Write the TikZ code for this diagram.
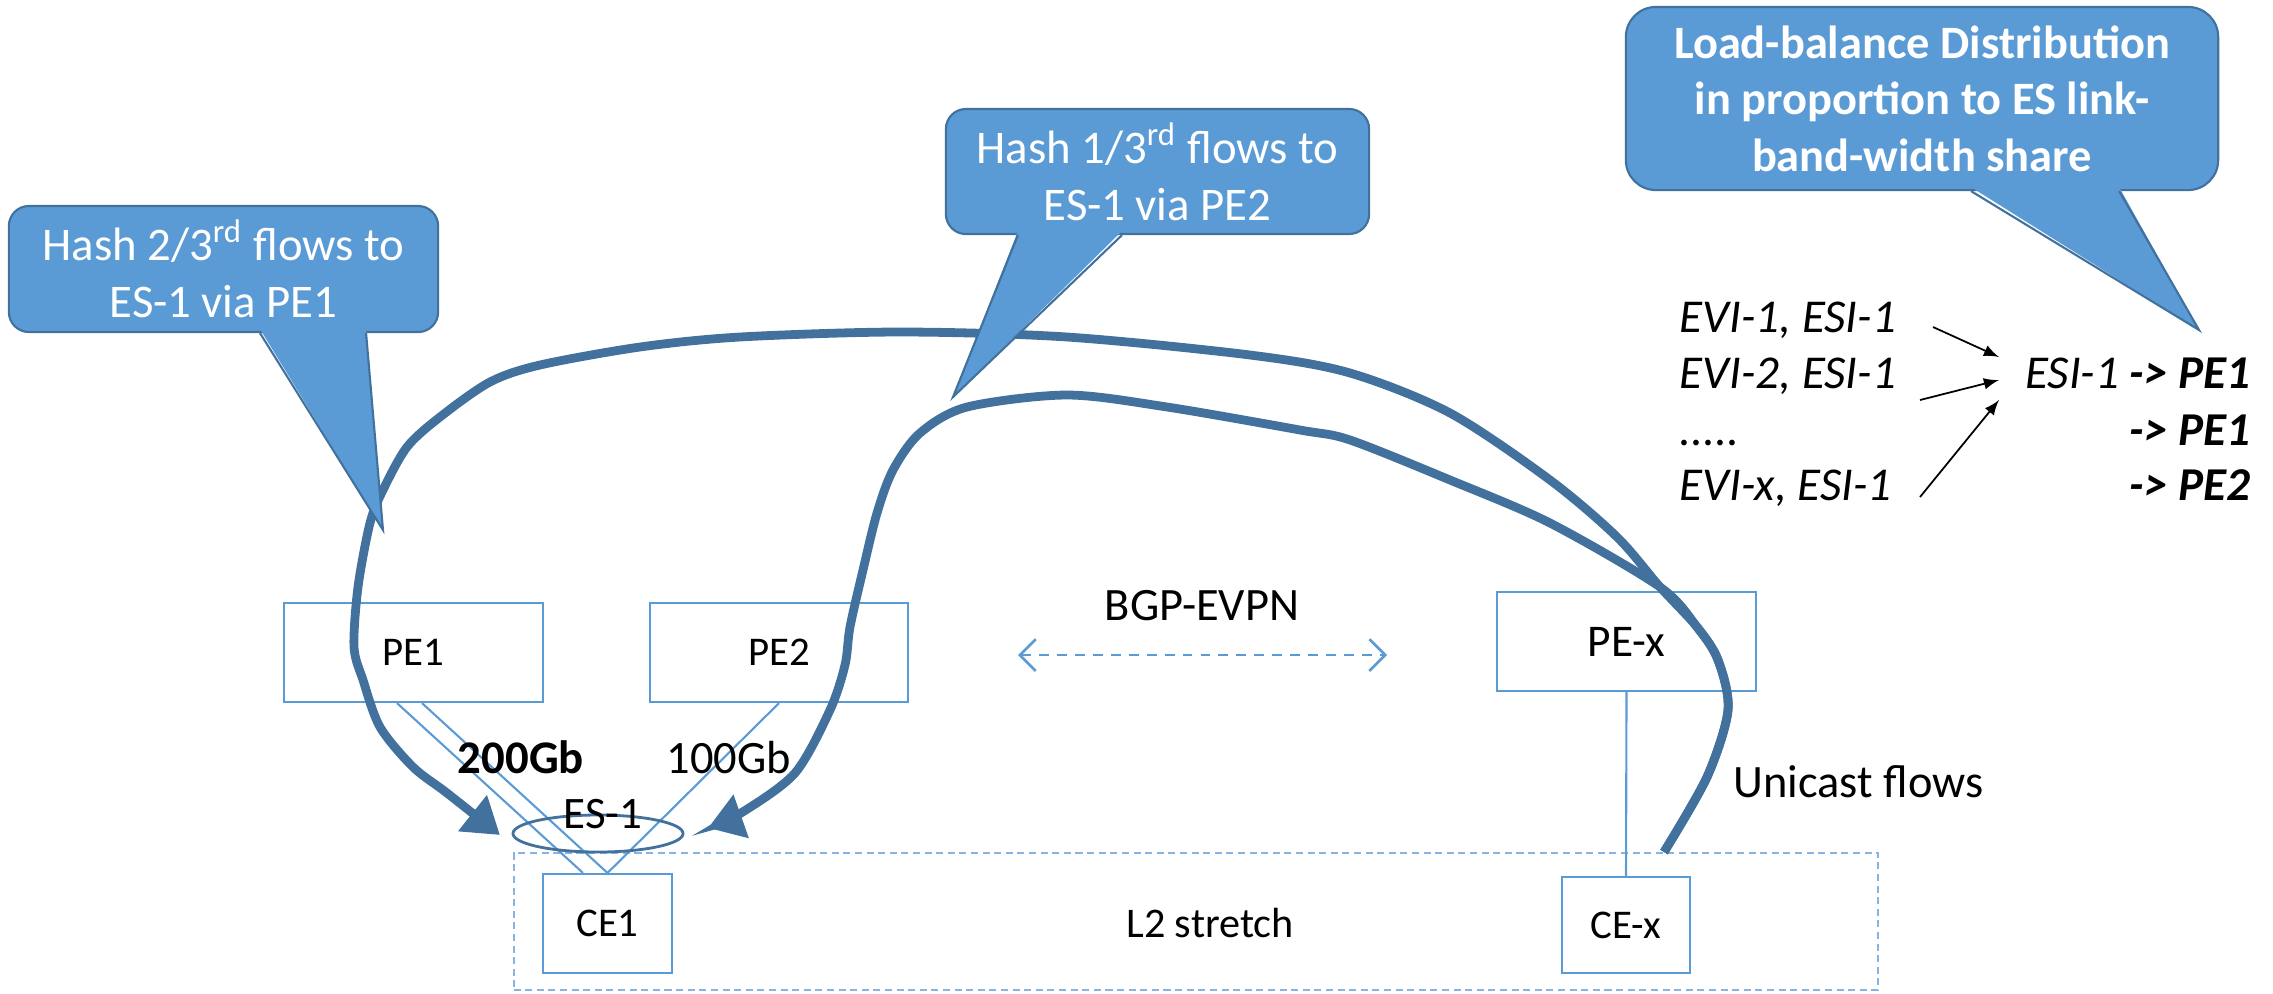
\documentclass[tikz,border=0pt]{standalone}
\usepackage{fontspec}
\setmainfont{Carlito}
\usepackage{tikz}
\usetikzlibrary{shapes.geometric,arrows.meta}
\definecolor{boxblue}{HTML}{5B9BD5}
\definecolor{flowblue}{HTML}{41719C}
\definecolor{lightdash}{HTML}{8AB4E0}

\begin{document}
\begin{tikzpicture}[x=0.01cm,y=-0.01cm,
  box/.style={draw=boxblue,line width=0.6pt,inner sep=0pt,font=\fontsize{11.6}{14}\selectfont},
  link/.style={draw=boxblue,line width=0.6pt},
  flow/.style={draw=flowblue,line width=2.5pt,-{Triangle[length=10pt,width=12.5pt]}},
  callout/.style={fill=boxblue,draw=flowblue,line width=0.6pt,rounded corners=0.2cm,text=white,align=center,inner sep=0pt,font=\fontsize{13.3}{16.2}\selectfont},
  pointerfill/.style={fill=boxblue},
  pointerline/.style={draw=flowblue,line width=0.6pt,line join=miter},
  txt/.style={inner sep=0pt,font=\fontsize{13.2}{16}\selectfont},
  maptxt/.style={inner sep=0pt,font=\itshape\fontsize{13.4}{16}\selectfont},
  maparrow/.style={-latex,line width=0.5pt}
]
\useasboundingbox (0,0) rectangle (2273,993);

\node[draw=lightdash,line width=0.6pt,dash pattern=on 2pt off 1.3pt,minimum width=13.64cm,minimum height=1.37cm] (l2) at (1196,921.5) {};
\node[txt,font=\fontsize{12}{14}\selectfont] (l2txt) at (1210,923) {L2 stretch};

\node[box,minimum width=2.59cm,minimum height=0.99cm] (pe1) at (413.5,652.5) {PE1};
\node[box,minimum width=2.58cm,minimum height=0.99cm] (pe2) at (779,652.5) {PE2};
\node[box,minimum width=2.59cm,minimum height=0.99cm,font=\fontsize{12.9}{15}\selectfont] (pex) at (1626.5,641.5) {PE-x};
\node[box,minimum width=1.29cm,minimum height=0.99cm] (ce1) at (607.5,923.5) {CE1};
\node[box,minimum width=1.28cm,minimum height=0.96cm] (cex) at (1626,925) {CE-x};

\draw[link] ([xshift=-0.165cm]pe1.south) -- ([xshift=-0.245cm]ce1.north);
\draw[link] ([xshift=0.085cm]pe1.south) -- (ce1.north);
\draw[link] (pe2.south) -- (ce1.north);
\draw[link] (pex.south) -- (cex.north);

\node[draw=flowblue,line width=0.8pt,ellipse,inner sep=0pt,minimum width=1.70cm,minimum height=0.37cm] (es) at (598,833.5) {};
\node[txt,anchor=base,font=\fontsize{12.8}{15}\selectfont] (estxt) at (603,828) {ES-1};
\node[txt,anchor=base,font=\bfseries\fontsize{13.3}{16}\selectfont] (bwa) at (521,773) {200Gb};
\node[txt,anchor=base] (bwb) at (729,773) {100Gb};

\node[txt,anchor=base] (bgp) at (1202,620) {BGP-EVPN};
\coordinate (bgpl) at (1018,655);
\coordinate (bgpr) at (1387,655);
\draw[boxblue,line width=0.75pt,dash pattern=on 2.8pt off 2.3pt,{Straight Barb[length=4.5pt,width=9pt]}-{Straight Barb[length=4.5pt,width=9pt]}] (bgpl) -- (bgpr);

\node[txt,anchor=base] (uni) at (1858.5,797) {Unicast flows};

\coordinate (fstart) at (1664,852);
\coordinate (fenda) at (500,835);
\coordinate (fendb) at (708,828);
\draw[flow] plot[smooth] coordinates {(fstart) (1707,777) (1728,710) (1718,660) (1697,627) (1660,587) (1617,537) (1550,480) (1450,413) (1350,373) (1250,355) (1067,337) (900,332) (740,337) (640,347) (540,365) (490,382) (440,417) (407,447) (383,490) (370,523) (358,587) (354,647) (363,680) (380,727) (413,767) (447,793) (fenda)};
\draw[flow] plot[smooth] coordinates {(fstart) (1707,777) (1728,710) (1718,660) (1697,627) (1660,587) (1550,523) (1450,480) (1350,440) (1300,430) (1167,407) (1067,395) (967,407) (920,433) (893,470) (877,513) (863,570) (850,627) (845,665) (830,710) (795,773) (741,813) (fendb)};

\node[maptxt,anchor=base west] (evia) at (1679,332) {EVI-1, ESI-1};
\node[maptxt,anchor=base west] (evib) at (1679,388) {EVI-2, ESI-1};
\node[maptxt,anchor=base west] (dots) at (1679,445) {.....};
\node[maptxt,anchor=base west] (evix) at (1679,500) {EVI-x, ESI-1};
\node[maptxt,anchor=base east] (mapa) at (2251,388) {ESI-1 \textbf{-> PE1}};
\node[maptxt,anchor=base east] (mapb) at (2251,445) {\textbf{-> PE1}};
\node[maptxt,anchor=base east] (mapc) at (2251,500) {\textbf{-> PE2}};
\coordinate (ina) at (1933,327);
\coordinate (inb) at (1920,400);
\coordinate (inx) at (1920,497);
\coordinate (hubt) at (1999,357);
\coordinate (hubm) at (1999,380);
\coordinate (hubb) at (1999,400);
\draw[maparrow] (ina) -- (hubt);
\draw[maparrow] (inb) -- (hubm);
\draw[maparrow] (inx) -- (hubb);

\node[callout,minimum width=4.29cm,minimum height=1.26cm] (hasha) at (223.5,269) {Hash 2/3\textsuperscript{rd} flows to\\ES-1 via PE1};
\coordinate (tipa) at (383,530);
\fill[pointerfill] ([xshift=0.365cm,yshift=0.04cm]hasha.south) -- (tipa) -- ([xshift=1.425cm,yshift=0.04cm]hasha.south) -- cycle;
\draw[pointerline] ([xshift=0.365cm]hasha.south) -- (tipa) -- ([xshift=1.425cm]hasha.south);

\node[callout,minimum width=4.23cm,minimum height=1.25cm] (hashb) at (1157.5,171.5) {Hash 1/3\textsuperscript{rd} flows to\\ES-1 via PE2};
\coordinate (tipb) at (953,397);
\fill[pointerfill] ([xshift=-1.395cm,yshift=0.04cm]hashb.south) -- (tipb) -- ([xshift=-0.355cm,yshift=0.04cm]hashb.south) -- cycle;
\draw[pointerline] ([xshift=-1.395cm]hashb.south) -- (tipb) -- ([xshift=-0.355cm]hashb.south);

\node[callout,rounded corners=0.3cm,font=\bfseries\fontsize{13.2}{16.1}\selectfont,minimum width=5.92cm,minimum height=1.83cm] (lbdist) at (1922,98.5) {Load-balance Distribution\\in proportion to ES link-\\band-width share};
\coordinate (tipc) at (2199,330);
\fill[pointerfill] ([xshift=0.49cm,yshift=0.04cm]lbdist.south) -- (tipc) -- ([xshift=1.97cm,yshift=0.04cm]lbdist.south) -- cycle;
\draw[pointerline] ([xshift=0.49cm]lbdist.south) -- (tipc) -- ([xshift=1.97cm]lbdist.south);
\end{tikzpicture}
\end{document}
